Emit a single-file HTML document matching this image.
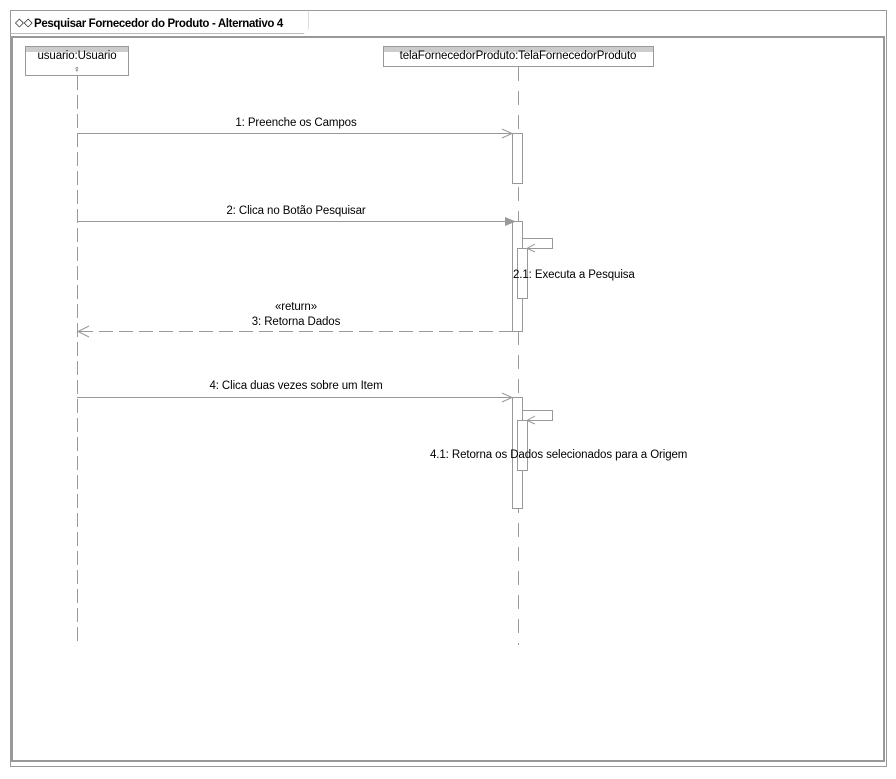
<!DOCTYPE html>
<html><head><meta charset="utf-8"><style>
body{margin:0;background:#fff;width:896px;height:774px;overflow:hidden;font-family:"Liberation Sans","DejaVu Sans",sans-serif}
svg text{font-family:"Liberation Sans","DejaVu Sans",sans-serif;font-size:11.5px;fill:#000;letter-spacing:-0.1px}
</style></head><body>
<svg width="896" height="774" xmlns="http://www.w3.org/2000/svg">
<rect x="10.5" y="10.5" width="876" height="756" fill="#fff" stroke="#999"/>
<rect x="12" y="37" width="872" height="724" fill="#fff" stroke="#999" stroke-width="2"/>
<path d="M10.5 33.5H303.5L308 29V10.5" fill="none" stroke="#bbb"/>
<rect x="11" y="11" width="297" height="22" fill="#fff"/>
<text x="15" y="26" font-size="9" fill="#b8860b">◇◇</text>
<text x="34" y="27" font-weight="bold" style="font-size:11.5px;letter-spacing:-0.35px">Pesquisar Fornecedor do Produto - Alternativo 4</text>
<rect x="25.5" y="46.5" width="103" height="29" fill="#fff" stroke="#999"/>
<rect x="26" y="47" width="102" height="5" fill="#ccc"/>
<text x="77" y="59" text-anchor="middle">usuario:Usuario</text>
<text x="77" y="72" text-anchor="middle" style="font-size:9px" fill="#aaa">♀</text>
<line x1="77.5" y1="76" x2="77.5" y2="645" stroke="#999" stroke-dasharray="14,5"/>
<rect x="383.5" y="46.5" width="270" height="20" fill="#fff" stroke="#999"/>
<rect x="384" y="47" width="269" height="5" fill="#ccc"/>
<text x="518" y="59" text-anchor="middle">telaFornecedorProduto:TelaFornecedorProduto</text>
<line x1="518.5" y1="67" x2="518.5" y2="645" stroke="#999" stroke-dasharray="14,10"/>
<g fill="#fff" stroke="#999">
<rect x="512.5" y="133.5" width="10" height="50"/>
<rect x="512.5" y="221.5" width="10" height="110"/>
<rect x="517.5" y="248.5" width="10" height="50"/>
<rect x="512.5" y="397.5" width="10" height="111"/>
<rect x="517.5" y="420.5" width="10" height="50"/>
</g>
<g fill="none" stroke="#999">
<path d="M522 238.5H552.5V248.5H527"/>
<path d="M535 244L527 248.5L535 252"/>
<path d="M522 410.5H552.5V420.5H527"/>
<path d="M535 416L527 420.5L535 424"/>
<line x1="77" y1="133.5" x2="512" y2="133.5"/>
<path d="M502 129L512 133.5L502 138"/>
<line x1="77" y1="221.5" x2="505" y2="221.5"/>
<line x1="79" y1="331.5" x2="512" y2="331.5" stroke-dasharray="14,6"/>
<path d="M89 326L78 331.5L89 337"/>
<line x1="77" y1="397.5" x2="512" y2="397.5"/>
<path d="M502 393L512 397.5L502 402"/>
</g>
<path d="M505 217L516 221.5L505 226Z" fill="#999"/>
<text x="296" y="126" text-anchor="middle">1: Preenche os Campos</text>
<text x="296" y="214" text-anchor="middle">2: Clica no Botão Pesquisar</text>
<text x="513" y="278">2.1: Executa a Pesquisa</text>
<text x="296" y="310" text-anchor="middle">«return»</text>
<text x="296" y="325" text-anchor="middle">3: Retorna Dados</text>
<text x="296" y="389" text-anchor="middle">4: Clica duas vezes sobre um Item</text>
<text x="430" y="458">4.1: Retorna os Dados selecionados para a Origem</text>
</svg>
</body></html>
